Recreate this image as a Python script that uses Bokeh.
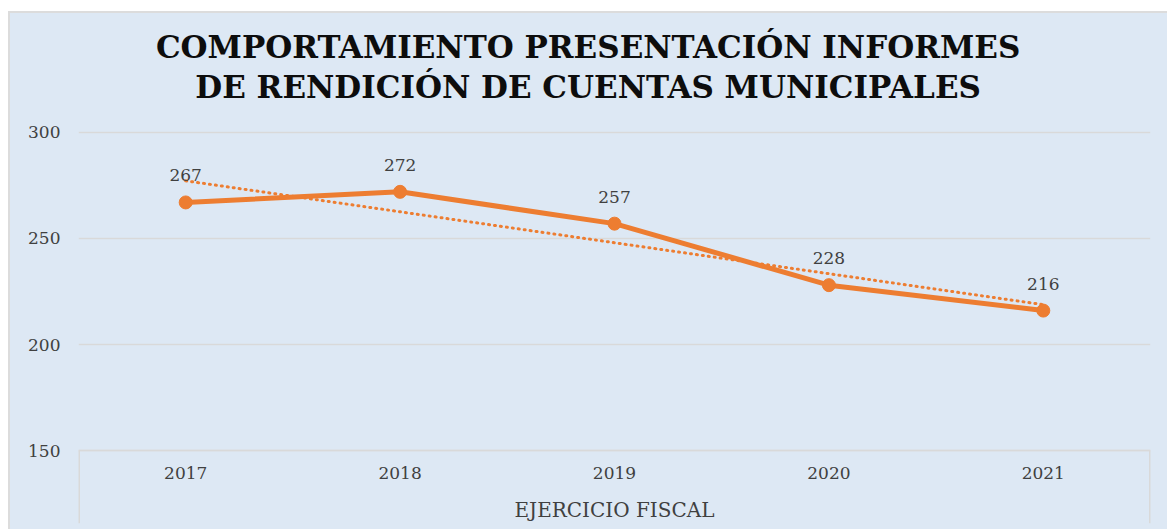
import numpy as np
from bokeh.plotting import figure
from bokeh.models import (Range1d, FixedTicker, ColumnDataSource, LabelSet, Label, Spacer)
from bokeh.layouts import column, row
from bokeh.embed import file_html
from bokeh.resources import INLINE
from bokeh.core.properties import value

# ---- data ----
years = ["2017", "2018", "2019", "2020", "2021"]
informes = [267, 272, 257, 228, 216]
y_ticks = [150, 200, 250, 300]
title_lines = ["COMPORTAMIENTO PRESENTACIÓN  INFORMES",
               "DE RENDICIÓN  DE CUENTAS MUNICIPALES"]
x_title = "EJERCICIO FISCAL"

idx = np.arange(len(years))
slope, intercept = np.polyfit(idx, informes, 1)   # linear trendline
trend = slope * idx + intercept

BG = "#dde8f4"
ORANGE = "#ed7d31"
GRID = "#d9d9d9"
EDGE = "#dcdcdc"
FONT = "DejaVu Serif"
TXT = "#404040"

x_lo, x_hi = -0.5, len(years) - 0.5
y_lo, y_hi = 115.6, 356.1

p = figure(width=1157, height=516,
           x_range=Range1d(x_lo, x_hi), y_range=Range1d(y_lo, y_hi),
           output_backend="svg", toolbar_location=None,
           min_border_left=68, min_border_right=17,
           min_border_top=0, min_border_bottom=6,
           background_fill_color=None, border_fill_color=None,
           outline_line_color=None,
           styles={"background-color": BG})

src = ColumnDataSource(dict(x=idx, v=informes, t=trend,
                            lbl=[str(v) for v in informes]))

# grid
p.xgrid.visible = False
p.ygrid.ticker = FixedTicker(ticks=y_ticks)
p.ygrid.grid_line_color = GRID
p.ygrid.grid_line_width = 1.5

# decorative category-axis edge lines
p.segment(x0=[x_lo, x_hi], y0=[y_ticks[0]] * 2, x1=[x_lo, x_hi], y1=[y_lo] * 2,
          line_color=GRID, line_width=3)

# trendline and series
p.line("x", "t", source=src, line_color=ORANGE, line_width=3,
       line_dash="1 5", line_cap="round")
p.line("x", "v", source=src, line_color=ORANGE, line_width=5)
p.scatter("x", "v", source=src, size=13, fill_color=ORANGE, line_color=ORANGE)

labels = LabelSet(x="x", y="v", text="lbl", source=src, y_offset=27,
                  text_align="center", text_baseline="middle",
                  text_font=value(FONT), text_font_size="17px", text_color=TXT)
p.add_layout(labels)

# x axis
xa = p.xaxis[0]
xa.fixed_location = y_ticks[0]
xa.ticker = FixedTicker(ticks=list(idx))
xa.major_label_overrides = {int(i): y for i, y in zip(idx, years)}
xa.axis_line_color = GRID
xa.axis_line_width = 1.5
xa.major_tick_line_color = None
xa.minor_tick_line_color = None
xa.major_label_standoff = 10
xa.major_label_text_font = FONT
xa.major_label_text_font_size = "17px"
xa.major_label_text_color = TXT
xa.axis_label = x_title
xa.axis_label_text_font = FONT
xa.axis_label_text_font_size = "20px"
xa.axis_label_text_font_style = "normal"
xa.axis_label_text_color = TXT
xa.axis_label_standoff = 16

# y axis
ya = p.yaxis[0]
ya.ticker = FixedTicker(ticks=y_ticks)
ya.axis_line_color = None
ya.major_tick_line_color = None
ya.minor_tick_line_color = None
ya.major_label_standoff = 12
ya.major_label_text_font = FONT
ya.major_label_text_font_size = "17px"
ya.major_label_text_color = TXT

# title (two centred lines)
for i, line in enumerate(title_lines):
    p.add_layout(Label(x=515, y=477 - 40 * i, x_units="screen", y_units="screen",
                       text=line, text_align="center", text_baseline="middle",
                       text_font=FONT, text_font_style="bold",
                       text_font_size="31px", text_color="#0d0d0d"))

edge_css = {"background-color": EDGE}
layout = column(
    Spacer(height=11),
    row(Spacer(width=8), Spacer(width=1159, height=2, styles=edge_css)),
    row(Spacer(width=8), Spacer(width=2, height=516, styles=edge_css), p),
)
open("out.html", "w").write(file_html(layout, INLINE))
